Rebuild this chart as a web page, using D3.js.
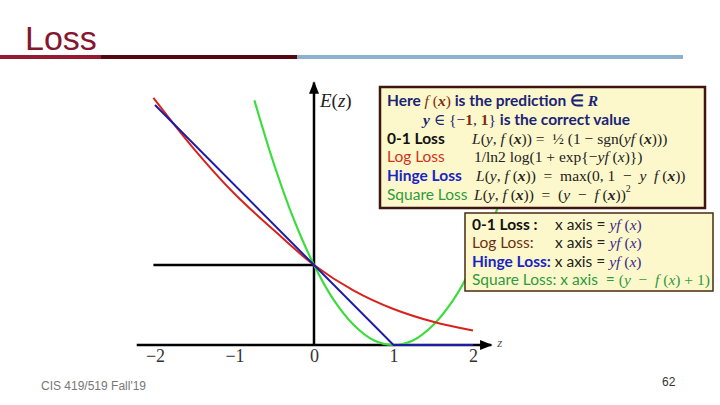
<!DOCTYPE html>
<html>
<head>
<meta charset="utf-8">
<script src="https://cdn.jsdelivr.net/npm/d3@7"></script>
<style>
  body { margin: 0; background: #fff; }
  svg { display: block; }
</style>
</head>
<body>
<div id="chart"></div>
<script>
// values
const zTicks = [-2, -1, 0, 1, 2];
const tickLabels = ["\u22122", "\u22121", "0", "1", "2"];

const zeroOneZ = [-2.02, 0];
const zeroOneE = [1, 1];

const hingeZ = [-2, 1, 2];
const hingeE = [3, 0, 0];

const logZ = [-2.02, -1.5, -1, -0.5, 0, 0.5, 1, 1.5, 2];
const logE = [3.09, 2.44, 1.89, 1.43, 1.0, 0.68, 0.45, 0.29, 0.18];

const squareZ = [-0.75, -0.5, -0.25, 0, 0.25, 0.5, 0.75, 1, 1.25, 1.5, 1.75, 2, 2.25, 2.5, 2.75];
const squareE = [3.06, 2.25, 1.56, 1, 0.56, 0.25, 0.06, 0, 0.06, 0.25, 0.56, 1, 1.56, 2.25, 3.06];

const width = 720;
const height = 405;

const svg = d3.select("#chart")
  .append("svg")
  .attr("width", width)
  .attr("height", height);

svg.append("rect").attr("width", width).attr("height", height).attr("fill", "#fff");

// title + header bar
svg.append("text")
  .attr("x", 25).attr("y", 50)
  .style("font-family", "'Liberation Sans', Arial, sans-serif")
  .style("font-size", "34px")
  .attr("fill", "#84162f")
  .text("Loss");

const bar = [
  { x0: 0, x1: 101, c: "#951a33" },
  { x0: 101, x1: 297, c: "#560714" },
  { x0: 297, x1: 683, c: "#8eb0cf" }
];
svg.selectAll(".bar").data(bar).enter().append("rect")
  .attr("x", d => d.x0).attr("y", 55)
  .attr("width", d => d.x1 - d.x0).attr("height", 4)
  .attr("fill", d => d.c);

// plot
const x = d3.scaleLinear().domain([-2, 2]).range([155, 473]);
const y = d3.scaleLinear().domain([0, 3]).range([345, 105]);

const defs = svg.append("defs");
defs.append("marker")
  .attr("id", "arrow")
  .attr("viewBox", "0 0 10 10")
  .attr("refX", 9).attr("refY", 5)
  .attr("markerWidth", 5).attr("markerHeight", 5)
  .attr("markerUnits", "strokeWidth")
  .attr("orient", "auto")
  .append("path")
  .attr("d", "M0,1 L10,5 L0,9 z")
  .attr("fill", "#000");

const plot = svg.append("g");

plot.append("line")
  .attr("x1", x(-2.23)).attr("x2", x(2.23))
  .attr("y1", y(0)).attr("y2", y(0))
  .attr("stroke", "#000").attr("stroke-width", 2.5)
  .attr("marker-end", "url(#arrow)");

plot.append("line")
  .attr("x1", x(0)).attr("x2", x(0))
  .attr("y1", y(0)).attr("y2", y(3.28))
  .attr("stroke", "#000").attr("stroke-width", 2.5)
  .attr("marker-end", "url(#arrow)");

const xAxis = d3.axisBottom(x)
  .tickValues(zTicks)
  .tickFormat((d, i) => tickLabels[i])
  .tickSize(0)
  .tickPadding(4);

const gx = plot.append("g")
  .attr("transform", "translate(0," + y(0) + ")")
  .call(xAxis);
gx.select(".domain").remove();
gx.selectAll("text")
  .style("font-family", "'Liberation Serif', 'DejaVu Serif', serif")
  .style("font-size", "18px")
  .attr("fill", "#333");

plot.append("text")
  .attr("x", x(2.23) + 6).attr("y", y(0) + 2)
  .style("font-family", "'Liberation Serif', serif")
  .style("font-style", "italic")
  .style("font-size", "13px")
  .attr("fill", "#555")
  .text("z");

plot.append("text")
  .attr("x", x(0) + 6).attr("y", 107)
  .style("font-family", "'Liberation Serif', serif")
  .style("font-size", "19px")
  .attr("fill", "#222")
  .html("<tspan font-style='italic'>E</tspan>(<tspan font-style='italic'>z</tspan>)");

const line = d3.line()
  .x(d => x(d[0]))
  .y(d => y(d[1]));

const zip = (a, b) => a.map((v, i) => [v, b[i]]);

plot.append("path")
  .attr("d", line(zip(zeroOneZ, zeroOneE)))
  .attr("fill", "none").attr("stroke", "#000").attr("stroke-width", 2.5);

plot.append("path")
  .attr("d", line.curve(d3.curveCatmullRom)(zip(squareZ, squareE)))
  .attr("fill", "none").attr("stroke", "#3ddc3d").attr("stroke-width", 2.2);

plot.append("path")
  .attr("d", line.curve(d3.curveCatmullRom)(zip(logZ, logE)))
  .attr("fill", "none").attr("stroke", "#d8231c").attr("stroke-width", 2);

plot.append("path")
  .attr("d", line.curve(d3.curveLinear)(zip(hingeZ, hingeE)))
  .attr("fill", "none").attr("stroke", "#1c1ca6").attr("stroke-width", 2);

// rich text helper: _italic_ and *bold italic*
const SANS = "Lato, 'Open Sans', sans-serif";
const SERIF = "'Liberation Serif', 'DejaVu Serif', serif";

function rich(t, str, opts) {
  let it = false, bi = false, buf = "";
  const flush = () => {
    if (!buf) return;
    const ts = t.append("tspan").text(buf)
      .style("font-family", opts.font || SERIF);
    if (it || bi) ts.style("font-style", "italic");
    if (bi || opts.bold) ts.style("font-weight", "bold");
    if (opts.color) ts.attr("fill", opts.color);
    if (opts.size) ts.style("font-size", opts.size);
    if (opts.dy) ts.attr("dy", opts.dy);
    buf = "";
  };
  for (const ch of str) {
    if (ch === "_") { flush(); it = !it; }
    else if (ch === "*") { flush(); bi = !bi; }
    else buf += ch;
  }
  flush();
  return t;
}

function textAt(x0, y0, size) {
  return svg.append("text").attr("x", x0).attr("y", y0)
    .style("font-size", size + "px")
    .attr("fill", "#222")
    .attr("xml:space", "preserve");
}

// top box
svg.append("rect")
  .attr("x", 380).attr("y", 87).attr("width", 325).attr("height", 121)
  .attr("fill", "#fdf8cc").attr("stroke", "#3d1610").attr("stroke-width", 2.5);

const NAVY = "#1b2477";
const BROWN = "#7e2a10";
const BLUE = "#1a25c4";

let t = textAt(387, 106, 15.5);
rich(t, "Here ", { font: SANS, bold: true, color: NAVY });
rich(t, "_f_ (*x*)", { color: BROWN });
rich(t, " is the prediction \u2208 ", { font: SANS, bold: true, color: NAVY });
rich(t, "*R*", { color: NAVY });

t = textAt(423, 125, 15.5);
rich(t, "*y*", { color: NAVY });
rich(t, " \u2208 {\u2212", { color: NAVY });
rich(t, "1", { color: BROWN, bold: true });
rich(t, ", ", { color: NAVY });
rich(t, "1", { color: BROWN, bold: true });
rich(t, "}", { color: NAVY });
rich(t, " is the correct value", { font: SANS, bold: true, color: NAVY });

const fx = 472;
t = textAt(387, 144, 15.5);
rich(t, "0-1 Loss", { font: SANS, bold: true, color: "#111" });
t = textAt(fx, 144, 15.5);
rich(t, "_L_(_y_, _f_ (*x*)) =  \u00bd (1 \u2212 sgn(_yf_ (*x*)))", { color: "#222" });

t = textAt(387, 162, 15.5);
rich(t, "Log Loss", { font: SANS, color: "#d0321e" });
t = textAt(fx + 2, 162, 15.5);
rich(t, "1/ln2 log(1 + exp{\u2212_yf_ (_x_)})", { color: "#222" });

t = textAt(387, 181, 15.5);
rich(t, "Hinge Loss", { font: SANS, bold: true, color: BLUE });
t = textAt(fx + 4, 181, 15.5);
rich(t, "_L_(_y_, _f_ (*x*))  =  max(0, 1  \u2212  _y_  _f_ (*x*))", { color: "#222" });

t = textAt(387, 200, 15.5);
rich(t, "Square Loss", { font: SANS, color: "#2e9a3e" });
t = textAt(fx + 2, 200, 15.5);
rich(t, "_L_(_y_, _f_ (*x*))  =  (_y_  \u2212  _f_ (*x*))", { color: "#222" });
rich(t, "2", { color: "#222", size: "10px", dy: "-8" });

// bottom box
svg.append("rect")
  .attr("x", 465).attr("y", 213).attr("width", 248).attr("height", 78)
  .attr("fill", "#fdf8cc").attr("stroke", "#4a2a12").attr("stroke-width", 1.5);

const YF = "#3a2a8a";
t = textAt(472, 230, 15.5);
rich(t, "0-1 Loss :", { font: SANS, bold: true, color: "#111" });
t = textAt(555, 230, 15.5);
rich(t, "x axis = ", { font: SANS, color: "#222" });
rich(t, "_yf_ (_x_)", { color: YF });

t = textAt(472, 248, 15.5);
rich(t, "Log Loss:", { font: SANS, color: "#6a3010" });
t = textAt(555, 248, 15.5);
rich(t, "x axis = ", { font: SANS, color: "#222" });
rich(t, "_yf_ (_x_)", { color: YF });

t = textAt(472, 267, 15.5);
rich(t, "Hinge Loss:", { font: SANS, bold: true, color: BLUE });
rich(t, " x axis = ", { font: SANS, color: "#222" });
rich(t, "_yf_ (_x_)", { color: YF });

t = textAt(472, 285, 15.5);
rich(t, "Square Loss: x axis  = ", { font: SANS, color: "#2e9a3e" });
rich(t, "(_y_  \u2212  _f_ (_x_) + 1)", { color: "#2e9a3e" });

// footer
svg.append("text")
  .attr("x", 41).attr("y", 390)
  .style("font-family", "'Liberation Sans', Arial, sans-serif")
  .style("font-size", "12px")
  .attr("fill", "#777")
  .text("CIS 419/519 Fall'19");

svg.append("text")
  .attr("x", 662).attr("y", 386)
  .style("font-family", "'Liberation Sans', Arial, sans-serif")
  .style("font-size", "12px")
  .attr("fill", "#333")
  .text("62");
</script>
</body>
</html>
